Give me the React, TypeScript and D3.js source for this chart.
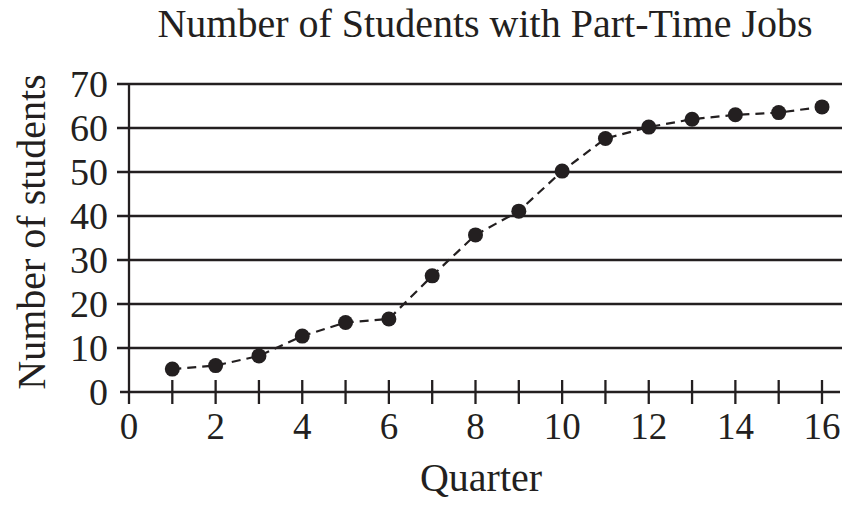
import React from "react";
import * as d3 from "d3";

const quarters = [1, 2, 3, 4, 5, 6, 7, 8, 9, 10, 11, 12, 13, 14, 15, 16];
const students = [5.2, 6.0, 8.2, 12.7, 15.8, 16.6, 26.4, 35.7, 41.1, 50.2, 57.6, 60.2, 62.0, 63.0, 63.5, 64.8];
const xTicks = [0, 2, 4, 6, 8, 10, 12, 14, 16];
const xMinorTicks = [1, 2, 3, 4, 5, 6, 7, 8, 9, 10, 11, 12, 13, 14, 15, 16];
const yTicks = [0, 10, 20, 30, 40, 50, 60, 70];
const title = "Number of Students with Part-Time Jobs";
const xTitle = "Quarter";
const yTitle = "Number of students";

const W = 857;
const H = 508;
const INK = "#231f20";
const FONT = "'Liberation Serif', 'Times New Roman', serif";

export default function App() {
  const x = d3.scaleLinear().domain([0, 16]).range([129, 822]);
  const y = d3.scaleLinear().domain([0, 70]).range([392, 84]);
  const line = d3
    .line<number>()
    .x((_, i) => x(quarters[i]))
    .y((d) => y(d));

  return (
    <svg width={W} height={H} style={{ position: "absolute", left: 0, top: 0, background: "#fff" }}>
      <text x={485} y={37} textAnchor="middle" fontFamily={FONT} fontSize={40} fill={INK}>
        {title}
      </text>
      {yTicks.filter((t) => t > 0).map((t) => (
        <line key={"g" + t} x1={117} x2={842} y1={y(t)} y2={y(t)} stroke={INK} strokeWidth={2.3} />
      ))}
      <line x1={120} x2={840} y1={y(0)} y2={y(0)} stroke={INK} strokeWidth={2.3} />
      <line x1={x(0)} x2={x(0)} y1={y(70)} y2={404} stroke={INK} strokeWidth={2.3} />
      {xMinorTicks.map((t) => (
        <line key={"t" + t} x1={x(t)} x2={x(t)} y1={380} y2={404} stroke={INK} strokeWidth={2.3} />
      ))}
      {yTicks.map((t) => (
        <text key={"yl" + t} x={108} y={y(t) + 13} textAnchor="end" fontFamily={FONT} fontSize={38} fill={INK}>
          {t}
        </text>
      ))}
      {xTicks.map((t) => (
        <text key={"xl" + t} x={x(t)} y={439} textAnchor="middle" fontFamily={FONT} fontSize={37} fill={INK}>
          {t}
        </text>
      ))}
      <text x={481} y={491} textAnchor="middle" fontFamily={FONT} fontSize={40} fill={INK}>
        {xTitle}
      </text>
      <text
        transform={`translate(45, 232) rotate(-90)`}
        textAnchor="middle"
        fontFamily={FONT}
        fontSize={40}
        fill={INK}
      >
        {yTitle}
      </text>
      <path d={line(students) || ""} fill="none" stroke={INK} strokeWidth={2.2} strokeDasharray="9,6" />
      {students.map((v, i) => (
        <circle key={"c" + i} cx={x(quarters[i])} cy={y(v)} r={7.5} fill={INK} />
      ))}
    </svg>
  );
}
